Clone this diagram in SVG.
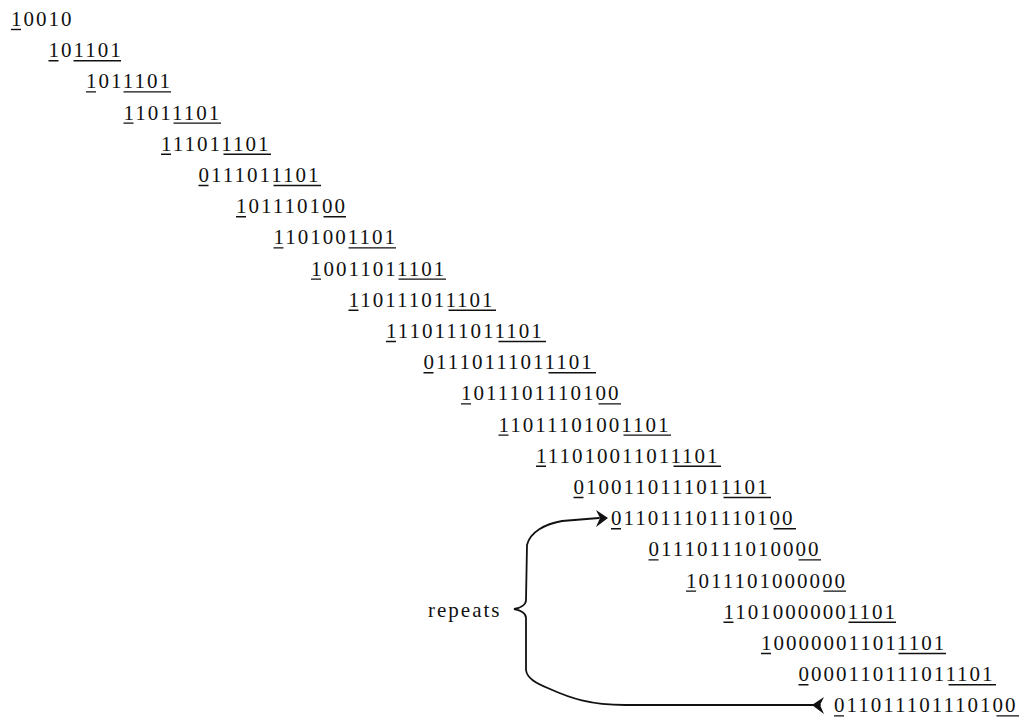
<svg xmlns="http://www.w3.org/2000/svg" width="1020" height="719" viewBox="0 0 1020 719">
<style>
text{font-family:"Liberation Serif","Times New Roman",serif;font-size:21px;letter-spacing:2px;fill:#111}
.u{stroke:#111;stroke-width:1.4;fill:none}
.c{stroke:#111;stroke-width:1.8;fill:none;stroke-linecap:round}
.ah{fill:#111;stroke:none}
</style>
<rect width="1020" height="719" fill="#fff"/>
<g id="row1"><text x="11" y="26">10010</text><path class="u" d="M11 29.5H21"/></g>
<g id="row2"><text x="48.5" y="57.2">101101</text><path class="u" d="M48.5 60.7H58.5M73.5 60.7H121"/></g>
<g id="row3"><text x="86" y="88.4">1011101</text><path class="u" d="M86 91.9H96M123.5 91.9H171"/></g>
<g id="row4"><text x="123.5" y="119.6">11011101</text><path class="u" d="M123.5 123.1H133.5M173.5 123.1H221"/></g>
<g id="row5"><text x="161" y="150.8">111011101</text><path class="u" d="M161 154.3H171M223.5 154.3H271"/></g>
<g id="row6"><text x="198.5" y="182">0111011101</text><path class="u" d="M198.5 185.5H208.5M273.5 185.5H321"/></g>
<g id="row7"><text x="236" y="213.2">101110100</text><path class="u" d="M236 216.7H246M323.5 216.7H346"/></g>
<g id="row8"><text x="273.5" y="244.4">1101001101</text><path class="u" d="M273.5 247.9H283.5M348.5 247.9H396"/></g>
<g id="row9"><text x="311" y="275.6">10011011101</text><path class="u" d="M311 279.1H321M398.5 279.1H446"/></g>
<g id="row10"><text x="348.5" y="306.8">110111011101</text><path class="u" d="M348.5 310.3H358.5M448.5 310.3H496"/></g>
<g id="row11"><text x="386" y="338">1110111011101</text><path class="u" d="M386 341.5H396M498.5 341.5H546"/></g>
<g id="row12"><text x="423.5" y="369.2">01110111011101</text><path class="u" d="M423.5 372.7H433.5M548.5 372.7H596"/></g>
<g id="row13"><text x="461" y="400.4">1011101110100</text><path class="u" d="M461 403.9H471M598.5 403.9H621"/></g>
<g id="row14"><text x="498.5" y="431.6">11011101001101</text><path class="u" d="M498.5 435.1H508.5M623.5 435.1H671"/></g>
<g id="row15"><text x="536" y="462.8">111010011011101</text><path class="u" d="M536 466.3H546M673.5 466.3H721"/></g>
<g id="row16"><text x="573.5" y="494">0100110111011101</text><path class="u" d="M573.5 497.5H583.5M723.5 497.5H771"/></g>
<g id="row17"><text x="611" y="525.2">011011101110100</text><path class="u" d="M611 528.7H621M773.5 528.7H796"/></g>
<g id="row18"><text x="648.5" y="556.4">01110111010000</text><path class="u" d="M648.5 559.9H658.5M798.5 559.9H821"/></g>
<g id="row19"><text x="686" y="587.6">1011101000000</text><path class="u" d="M686 591.1H696M823.5 591.1H846"/></g>
<g id="row20"><text x="723.5" y="618.8">11010000001101</text><path class="u" d="M723.5 622.3H733.5M848.5 622.3H896"/></g>
<g id="row21"><text x="761" y="650">100000011011101</text><path class="u" d="M761 653.5H771M898.5 653.5H946"/></g>
<g id="row22"><text x="798.5" y="681.2">0000110111011101</text><path class="u" d="M798.5 684.7H808.5M948.5 684.7H996"/></g>
<g id="row23"><text x="834" y="712.4">011011101110100</text><path class="u" d="M834 715.9H844M996.5 715.9H1019"/></g>
<g id="label"><text x="428" y="617">repeats</text></g>
<g id="connectors">
<path class="c" d="M599 518L562 521C545 524 530 532 527 545L526 600C526 605 520 608 514 609C520 610 526 613 526 618L526 670C527 678 535 683 550 689C570 698 590 705 625 705L820 705"/>
<path class="ah" d="M596 510L608 518L596 527L600 518Z"/>
<path class="ah" d="M824 697L812 705L824 714L820 705Z"/>
</g>
</svg>
